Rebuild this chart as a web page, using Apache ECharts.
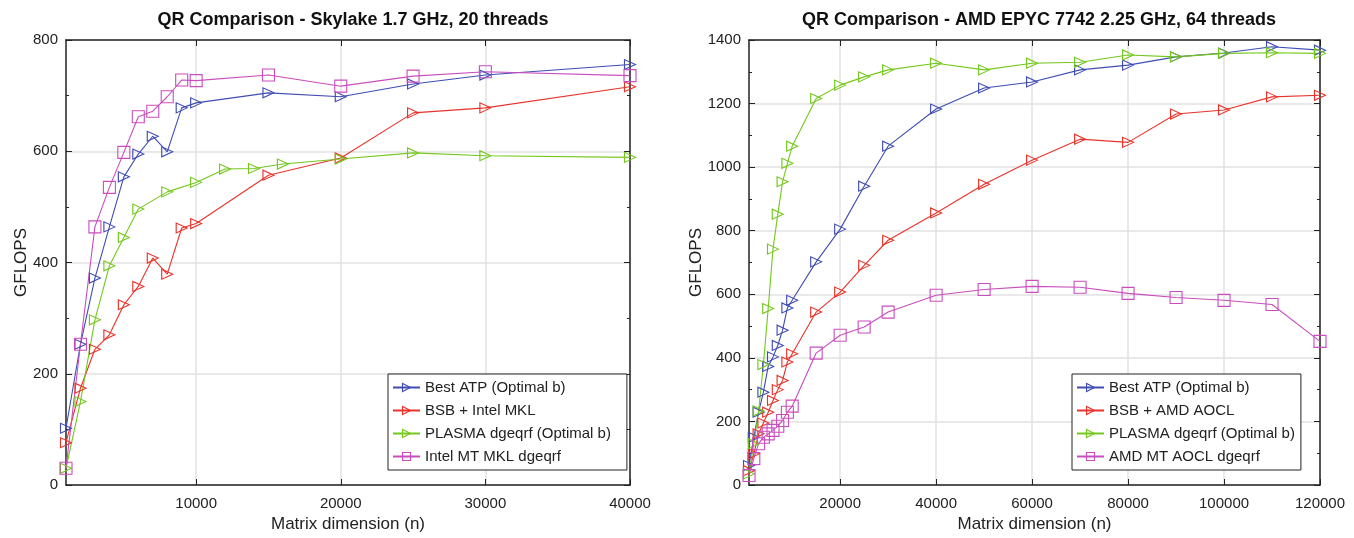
<!DOCTYPE html>
<html>
<head>
<meta charset="utf-8">
<script src="https://cdn.jsdelivr.net/npm/echarts@6/dist/echarts.min.js"></script>
<style>
  html, body { margin: 0; padding: 0; background: #fff; }
  #chart { width: 1354px; height: 538px; }
</style>
</head>
<body>
<div id="chart"></div>
<script>
// Skylake (left panel)
const skyN = [1000, 2000, 3000, 4000, 5000, 6000, 7000, 8000, 9000, 10000, 15000, 20000, 25000, 30000, 40000];
const skyATP = [102, 253, 372, 464, 554, 595, 627, 599, 678, 687, 705, 698, 721, 737, 756];
const skyBSB = [76, 174, 244, 270, 324, 357, 408, 379, 462, 470, 557, 588, 669, 678, 716];
const skyMKL = [30, 253, 464, 535, 598, 662, 672, 698, 728, 727, 737, 717, 735, 743, 736];
const skyPlasmaN = [1000, 2000, 3000, 4000, 5000, 6000, 8000, 10000, 12000, 14000, 16000, 20000, 25000, 30000, 40000];
const skyPlasma = [30, 150, 297, 394, 445, 496, 527, 544, 568, 569, 577, 586, 597, 592, 589];

// AMD EPYC (right panel)
const amdN = [1000, 2000, 3000, 4000, 5000, 6000, 7000, 8000, 9000, 10000, 15000, 20000, 25000, 30000,
  40000, 50000, 60000, 70000, 80000, 90000, 100000, 110000, 120000];
const amdATP = [61, 150, 229, 292, 373, 403, 439, 487, 557, 581, 702, 805, 940, 1066,
  1183, 1249, 1268, 1306, 1321, 1347, 1359, 1379, 1368];
const amdBSB = [45, 98, 161, 195, 229, 266, 300, 329, 387, 413, 544, 607, 691, 770,
  856, 946, 1022, 1088, 1078, 1167, 1180, 1221, 1226];
const amdPlasma = [35, 130, 233, 379, 555, 742, 852, 954, 1012, 1066, 1216, 1258, 1284, 1306,
  1327, 1306, 1327, 1330, 1353, 1347, 1358, 1360, 1358];
const amdAOCL = [30, 83, 130, 150, 161, 172, 185, 203, 229, 248, 415, 471, 497, 544,
  597, 615, 625, 622, 603, 590, 581, 568, 452];

const skyXTicks = [10000, 20000, 30000, 40000];
const amdXTicks = [20000, 40000, 60000, 80000, 100000, 120000];

const BLUE = '#3f4db3';
const RED = '#e8332b';
const GREEN = '#74c71c';
const PINK = '#c94dbd';
const FONT = '"Liberation Sans", Arial, Helvetica, sans-serif';

const chart = echarts.init(document.getElementById('chart'));

function pairs(xs, ys) {
  return xs.map((x, i) => [x, ys[i]]);
}

// plain numbers, no thousands separator
const plain = v => String(v);

function mkSeries(name, color, xs, ys, grid, square) {
  return {
    name: name,
    type: 'line',
    xAxisIndex: grid * 2,
    yAxisIndex: grid * 2,
    data: pairs(xs, ys),
    symbol: square ? 'rect' : 'triangle',
    symbolRotate: square ? 0 : -90,
    symbolSize: square ? 12 : [10, 11],
    showAllSymbol: true,
    clip: false,
    animation: false,
    lineStyle: { color: color, width: 1.1 },
    itemStyle: { color: 'rgba(255,255,255,0)', borderColor: color, borderWidth: 1.1 },
    emphasis: { disabled: true }
  };
}

function mainX(grid, min, max, ticks) {
  return {
    type: 'value', gridIndex: grid, position: 'bottom', min: min, max: max,
    axisLine: { show: true, onZero: false, lineStyle: { color: '#222', width: 1.5 } },
    axisTick: { show: true, inside: true, length: 6, customValues: ticks, lineStyle: { color: '#222' } },
    axisLabel: { customValues: ticks, formatter: plain, color: '#222', fontSize: 15, fontFamily: FONT, margin: 11 },
    splitLine: { show: true, lineStyle: { color: '#e2e2e2', width: 1.5 } },
    name: 'Matrix dimension (n)', nameLocation: 'middle', nameGap: 28,
    nameTextStyle: { color: '#222', fontSize: 17, fontFamily: FONT }
  };
}

function topX(grid, min, max, ticks) {
  return {
    type: 'value', gridIndex: grid, position: 'top', min: min, max: max,
    axisLine: { show: true, onZero: false, lineStyle: { color: '#222', width: 1.5 } },
    axisTick: { show: true, inside: true, length: 6, customValues: ticks, lineStyle: { color: '#222' } },
    axisLabel: { show: false },
    splitLine: { show: false }
  };
}

function mainY(grid, max, gap) {
  return {
    type: 'value', gridIndex: grid, position: 'left', min: 0, max: max, interval: 200,
    axisLine: { show: true, onZero: false, lineStyle: { color: '#222', width: 1.5 } },
    axisTick: { show: true, inside: true, length: 6, lineStyle: { color: '#222' } },
    minorTick: { show: true, splitNumber: 2, length: 3, lineStyle: { color: '#222' } },
    axisLabel: { formatter: plain, color: '#222', fontSize: 15, fontFamily: FONT, margin: 8 },
    splitLine: { show: true, lineStyle: { color: '#e2e2e2', width: 1.5 } },
    name: 'GFLOPS', nameLocation: 'middle', nameGap: gap, nameMoveOverlap: false,
    nameTextStyle: { color: '#222', fontSize: 17, fontFamily: FONT }
  };
}

function rightY(grid, max) {
  return {
    type: 'value', gridIndex: grid, position: 'right', min: 0, max: max, interval: 200,
    axisLine: { show: true, onZero: false, lineStyle: { color: '#222', width: 1.5 } },
    axisTick: { show: true, inside: true, length: 6, lineStyle: { color: '#222' } },
    minorTick: { show: true, splitNumber: 2, length: 3, lineStyle: { color: '#222' } },
    axisLabel: { show: false },
    splitLine: { show: false }
  };
}

function mkLegend(names, left, padRight) {
  return {
    data: names,
    orient: 'vertical',
    left: left, top: 374,
    itemWidth: 27, itemHeight: 10, itemGap: 8,
    padding: [6, padRight, 6, 4],
    backgroundColor: '#fff',
    borderColor: '#222', borderWidth: 1, borderRadius: 0,
    itemStyle: { color: 'rgba(255,255,255,0)', borderColor: 'inherit', borderWidth: 1.1 },
    textStyle: { color: '#222', fontSize: 15, fontFamily: FONT },
    selectedMode: false
  };
}

chart.setOption({
  backgroundColor: '#fff',
  animation: false,
  title: [
    { text: 'QR Comparison - Skylake 1.7 GHz, 20 threads', left: 348, top: 6, textAlign: 'center',
      textStyle: { fontSize: 18, fontWeight: 'bold', color: '#111', fontFamily: FONT } },
    { text: 'QR Comparison - AMD EPYC 7742 2.25 GHz, 64 threads', left: 1034, top: 6, textAlign: 'center',
      textStyle: { fontSize: 18, fontWeight: 'bold', color: '#111', fontFamily: FONT } }
  ],
  grid: [
    { left: 66, right: 724, top: 40, bottom: 53 },
    { left: 749, right: 34, top: 40, bottom: 53 }
  ],
  xAxis: [
    mainX(0, 1000, 40000, skyXTicks),
    topX(0, 1000, 40000, skyXTicks),
    mainX(1, 1000, 120000, amdXTicks),
    topX(1, 1000, 120000, amdXTicks)
  ],
  yAxis: [
    mainY(0, 800, 36),
    rightY(0, 800),
    mainY(1, 1400, 44),
    rightY(1, 1400)
  ],
  legend: [
    mkLegend(['Best ATP (Optimal b)', 'BSB + Intel MKL', 'PLASMA dgeqrf (Optimal b)', 'Intel MT MKL dgeqrf'], 388, 16),
    mkLegend(['Best ATP (Optimal b)', 'BSB + AMD AOCL', 'PLASMA dgeqrf (Optimal b)', 'AMD MT AOCL dgeqrf'], 1072, 6)
  ],
  series: [
    mkSeries('Best ATP (Optimal b)', BLUE, skyN, skyATP, 0, false),
    mkSeries('BSB + Intel MKL', RED, skyN, skyBSB, 0, false),
    mkSeries('PLASMA dgeqrf (Optimal b)', GREEN, skyPlasmaN, skyPlasma, 0, false),
    mkSeries('Intel MT MKL dgeqrf', PINK, skyN, skyMKL, 0, true),
    mkSeries('Best ATP (Optimal b)', BLUE, amdN, amdATP, 1, false),
    mkSeries('BSB + AMD AOCL', RED, amdN, amdBSB, 1, false),
    mkSeries('PLASMA dgeqrf (Optimal b)', GREEN, amdN, amdPlasma, 1, false),
    mkSeries('AMD MT AOCL dgeqrf', PINK, amdN, amdAOCL, 1, true)
  ]
});
</script>
</body>
</html>
